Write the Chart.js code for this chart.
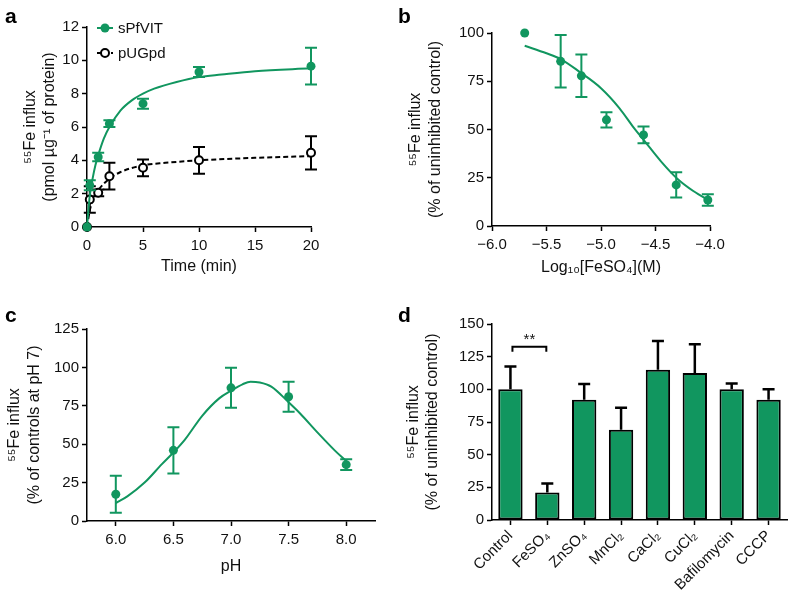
<!DOCTYPE html>
<html>
<head>
<meta charset="utf-8">
<script src="https://cdn.jsdelivr.net/npm/chart.js@4/dist/chart.umd.min.js"></script>
<style>
  body { margin: 0; background: #fff; width: 788px; height: 600px; position: relative; overflow: hidden; font-family: "Liberation Sans", Arial, sans-serif; }
  canvas { position: absolute; }
  .lab { position: absolute; font-weight: bold; font-size: 21px; line-height: 20px; color: #000; }
</style>
</head>
<body>
<canvas id="ca" width="394" height="290" style="left:0;top:0"></canvas>
<canvas id="cb" width="394" height="290" style="left:394px;top:0"></canvas>
<canvas id="cc" width="394" height="310" style="left:0;top:290px"></canvas>
<canvas id="cd" width="394" height="310" style="left:394px;top:290px"></canvas>
<div class="lab" style="left:5px;top:6px">a</div>
<div class="lab" style="left:398px;top:6px">b</div>
<div class="lab" style="left:5px;top:305px">c</div>
<div class="lab" style="left:398px;top:305px">d</div>
<script>
// panel a: time course
const seriesNames = ['sPfVIT', 'pUGpd'];
const timeMin = [0, 0.25, 1, 2, 5, 10, 20];
const sPfVIT = [0, 2.5, 4.2, 6.2, 7.4, 9.3, 9.65];
const sPfVITErr = [0, 0.3, 0.25, 0.2, 0.3, 0.3, 1.1];
const pUGpd = [0, 1.65, 2.05, 3.05, 3.55, 4.0, 4.45];
const pUGpdErr = [0, 0.8, 0.2, 0.8, 0.5, 0.8, 1.0];
const sPfVITFitT = [0, 0.1, 0.25, 0.5, 0.75, 1, 1.5, 2, 3, 4, 5, 6, 8, 10, 12, 15, 20];
const sPfVITFit = [0, 0.8, 1.9, 2.9, 3.7, 4.3, 5.3, 6.0, 7.0, 7.6, 8.0, 8.3, 8.7, 9.0, 9.15, 9.35, 9.52];
const pUGpdFitT = [0, 0.25, 0.5, 1, 2, 3, 5, 7, 10, 15, 20];
const pUGpdFit = [0, 1.0, 1.6, 2.2, 2.9, 3.3, 3.7, 3.85, 4.0, 4.15, 4.25];

// panel b: FeSO4 dose response
const logFe = [-5.7, -5.37, -5.18, -4.95, -4.61, -4.31, -4.02];
const feInflux = [100, 85.3, 77.8, 55, 47.2, 21.3, 13.5];
const feErr = [0, 13.6, 11, 4, 4.3, 6.5, 3];
const feFitX = [-5.7, -5.5, -5.37, -5.2, -5.0, -4.83, -4.7, -4.6, -4.45, -4.3, -4.15, -4.0];
const feFit = [93.4, 89.5, 86.5, 80, 71.4, 61, 51, 44, 33.5, 24.5, 18, 13];

// panel c: pH
const pHTicks = [6.0, 6.5, 7.0, 7.5, 8.0];
const pH = [6.0, 6.5, 7.0, 7.5, 8.0];
const pHInflux = [17.4, 46, 86.7, 80.9, 36.7];
const pHErr = [12, 15, 13, 9.8, 3.5];
const pHFitX = [6.0, 6.1, 6.25, 6.4, 6.5, 6.6, 6.75, 6.9, 7.0, 7.1, 7.17, 7.25, 7.35, 7.5, 7.6, 7.75, 7.9, 8.0];
const pHFit = [11.7, 16, 25, 37, 44.6, 53, 68.5, 80, 84.8, 89, 90.7, 90.2, 87.5, 77.3, 70, 57.7, 46, 39];

// panel d: other agents
const agents = ['Control', 'FeSO₄', 'ZnSO₄', 'MnCl₂', 'CaCl₂', 'CuCl₂', 'Bafilomycin', 'CCCP'];
const agentInflux = [100, 21, 92, 69, 115, 112.5, 100, 92];
const agentErr = [17.5, 7, 12, 17, 22, 22, 4.5, 8];
const sigPair = [0, 1];
const sigLevel = 132.5;
const sigLabel = '**';

const GREEN = '#11965f';
const FONT = '"Liberation Sans", Arial, sans-serif';
Chart.defaults.font.family = FONT;
Chart.defaults.color = '#111';
Chart.defaults.animation = false;

const pts = (xs, ys) => xs.map((x, i) => ({x: x, y: ys[i]}));
const minus = s => String(s).replace('-', '\u2212');

function drawErr(chart, i) {
  const ds = chart.data.datasets[i];
  if (!ds.errors) return;
  const meta = chart.getDatasetMeta(i);
  const ys = chart.scales[meta.yAxisID];
  const ctx = chart.ctx;
  const cap = 6;
  ctx.save();
  ctx.strokeStyle = ds.errorColor;
  ctx.lineWidth = ds.errorWidth || 2;
  meta.data.forEach((el, k) => {
    const e = ds.errors[k];
    if (!e) return;
    const v = ds.upOnly ? ds.data[k] : ds.data[k].y;
    const top = ys.getPixelForValue(v + e);
    const bot = ds.upOnly ? el.y : ys.getPixelForValue(v - e);
    ctx.beginPath();
    ctx.moveTo(el.x, top); ctx.lineTo(el.x, bot);
    ctx.moveTo(el.x - cap, top); ctx.lineTo(el.x + cap, top);
    if (!ds.upOnly) { ctx.moveTo(el.x - cap, bot); ctx.lineTo(el.x + cap, bot); }
    ctx.stroke();
  });
  ctx.restore();
}

const errorBars = {
  id: 'errorBars',
  beforeDatasetDraw(chart, args) { if (!chart.data.datasets[args.index].upOnly) drawErr(chart, args.index); },
  afterDatasetDraw(chart, args) { if (chart.data.datasets[args.index].upOnly) drawErr(chart, args.index); }
};

function yAxis(min, max, step, title, width, titlePad) {
  return {
    min: min, max: max,
    ticks: {stepSize: step, font: {size: 15}, padding: 3, color: '#111'},
    grid: {drawOnChartArea: false, color: '#000', tickLength: 5, tickWidth: 1.5},
    border: {color: '#000', width: 1.5},
    title: {display: true, text: title, font: {size: 16}, padding: {top: titlePad, bottom: 0}, color: '#111'},
    afterFit: s => { s.width = width; }
  };
}

function xAxis(min, max, step, title, height, titlePad, fmt) {
  return {
    type: 'linear', min: min, max: max,
    ticks: {stepSize: step, font: {size: 15}, padding: 5, color: '#111', callback: fmt},
    grid: {drawOnChartArea: false, color: '#000', tickLength: 5, tickWidth: 1.5},
    border: {color: '#000', width: 1.5},
    title: {display: true, text: title, font: {size: 16}, padding: {top: 0, bottom: titlePad}, color: '#111'},
    afterFit: s => { s.height = height; }
  };
}

function pointSet(xs, ys, errs, filled) {
  return {
    data: pts(xs, ys), errors: errs, errorColor: filled ? GREEN : '#000',
    showLine: false, clip: false,
    pointRadius: filled ? 4.5 : 4,
    pointBackgroundColor: filled ? GREEN : '#fff',
    pointBorderColor: filled ? GREEN : '#000',
    pointBorderWidth: filled ? 0 : 2
  };
}

function curveSet(xs, ys, color, dash) {
  return {
    data: pts(xs, ys), showLine: true, pointRadius: 0, clip: false,
    borderColor: color, borderWidth: 2, borderDash: dash || [],
    cubicInterpolationMode: 'monotone'
  };
}

const basePlugins = {legend: {display: false}, tooltip: {enabled: false}};

const legendA = {
  id: 'legendA',
  afterDraw(chart) {
    const ctx = chart.ctx;
    const rows = [
      {label: seriesNames[0], color: GREEN, dash: [], fill: GREEN, r: 4.5, y: 28},
      {label: seriesNames[1], color: '#000', dash: [4, 3], fill: '#fff', r: 4, y: 53}
    ];
    ctx.save();
    rows.forEach(r => {
      ctx.strokeStyle = r.color;
      ctx.lineWidth = 2;
      ctx.setLineDash(r.dash);
      ctx.beginPath(); ctx.moveTo(97, r.y); ctx.lineTo(113, r.y); ctx.stroke();
      ctx.setLineDash([]);
      ctx.beginPath(); ctx.arc(105, r.y, r.r, 0, Math.PI * 2);
      ctx.fillStyle = r.fill; ctx.fill();
      if (r.fill === '#fff') ctx.stroke();
      ctx.fillStyle = '#111';
      ctx.font = '15px ' + FONT;
      ctx.textBaseline = 'middle';
      ctx.fillText(r.label, 118, r.y + 1);
    });
    ctx.restore();
  }
};

new Chart('ca', {
  type: 'scatter',
  data: {datasets: [
    pointSet(timeMin, sPfVIT, sPfVITErr, true),
    curveSet(sPfVITFitT, sPfVITFit, GREEN),
    pointSet(timeMin, pUGpd, pUGpdErr, false),
    curveSet(pUGpdFitT, pUGpdFit, '#000', [5, 3])
  ]},
  options: {
    responsive: false,
    layout: {padding: {top: 27, right: 83, bottom: 0, left: 0}},
    scales: {
      x: xAxis(0, 20, 5, 'Time (min)', 63, 13.4),
      y: yAxis(0, 12, 2, ['\u2075\u2075Fe influx', '(pmol \u00b5g\u207b\u00b9 of protein)'], 87, 21)
    },
    plugins: basePlugins
  },
  plugins: [errorBars, legendA]
});

new Chart('cb', {
  type: 'scatter',
  data: {datasets: [
    pointSet(logFe, feInflux, feErr, true),
    curveSet(feFitX, feFit, GREEN)
  ]},
  options: {
    responsive: false,
    layout: {padding: {top: 33, right: 78, bottom: 0, left: 0}},
    scales: {
      x: xAxis(-6, -4, 0.5, 'Log\u2081\u2080[FeSO\u2084](M)', 64, 12.4, v => minus(v.toFixed(1))),
      y: yAxis(0, 100, 25, ['\u2075\u2075Fe influx', '(% of uninhibited control)'], 98, 12.4)
    },
    plugins: basePlugins
  },
  plugins: [errorBars]
});

const xc = xAxis(5.75, 8.25, 0.5, 'pH', 79, 23.4, v => v.toFixed(1));
xc.afterBuildTicks = s => { s.ticks = pHTicks.map(v => ({value: v})); };
new Chart('cc', {
  type: 'scatter',
  data: {datasets: [
    pointSet(pH, pHInflux, pHErr, true),
    curveSet(pHFitX, pHFit, GREEN)
  ]},
  options: {
    responsive: false,
    layout: {padding: {top: 39, right: 19, bottom: 0, left: 0}},
    scales: {
      x: xc,
      y: yAxis(0, 125, 25, ['\u2075\u2075Fe influx', '(% of controls at pH 7)'], 87, 5.4)
    },
    plugins: basePlugins
  },
  plugins: [errorBars]
});

const sigBracket = {
  id: 'sigBracket',
  afterDraw(chart) {
    const ctx = chart.ctx;
    const x = chart.scales.x, y = chart.scales.y;
    const x0 = x.getPixelForValue(sigPair[0]) + 2;
    const x1 = x.getPixelForValue(sigPair[1]) - 1;
    const yy = y.getPixelForValue(sigLevel);
    ctx.save();
    ctx.strokeStyle = '#000';
    ctx.lineWidth = 2;
    ctx.beginPath();
    ctx.moveTo(x0, yy + 5); ctx.lineTo(x0, yy); ctx.lineTo(x1, yy); ctx.lineTo(x1, yy + 5);
    ctx.stroke();
    ctx.fillStyle = '#111';
    ctx.font = '15px ' + FONT;
    ctx.textAlign = 'center';
    ctx.textBaseline = 'middle';
    ctx.fillText(sigLabel, (x0 + x1) / 2, yy - 7);
    ctx.restore();
  }
};

new Chart('cd', {
  type: 'bar',
  data: {
    labels: agents,
    datasets: [{
      data: agentInflux, errors: agentErr, errorColor: '#000', errorWidth: 2.5, upOnly: true,
      backgroundColor: GREEN, borderColor: '#000', borderWidth: 2, borderSkipped: false,
      categoryPercentage: 1, barPercentage: 0.66
    }]
  },
  options: {
    responsive: false,
    layout: {padding: {top: 34, right: 1, bottom: 0, left: 0}},
    scales: {
      x: {
        ticks: {font: {size: 15}, padding: 2, color: '#111', maxRotation: 45, minRotation: 45, autoSkip: false},
        grid: {drawOnChartArea: false, offset: false, color: '#000', tickLength: 5, tickWidth: 1.5},
        border: {color: '#000', width: 1.5},
        afterFit: s => { s.height = 80; }
      },
      y: yAxis(0, 150, 25, ['\u2075\u2075Fe influx', '(% of uninhibited control)'], 98, 10)
    },
    plugins: basePlugins
  },
  plugins: [errorBars, sigBracket]
});
</script>
</body>
</html>
